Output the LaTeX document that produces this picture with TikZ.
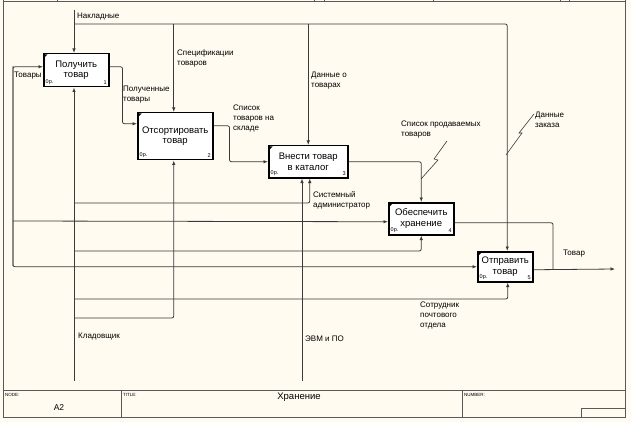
\documentclass[tikz,border=0pt]{standalone}
\usepackage{fontspec}
\setmainfont{Liberation Sans}
\usetikzlibrary{positioning}
\usetikzlibrary{arrows.meta}
\definecolor{paper}{HTML}{FFFBF0}
\definecolor{linegray}{HTML}{3A3A3A}
\tikzstyle{func} = [rectangle, anchor=north west, draw=black, line width=1.5pt, fill=white, align=center, inner sep=0pt, font=\fontsize{9.5}{10.5}\selectfont]
\tikzstyle{cost} = [inner sep=2.5pt, font=\fontsize{5.5}{5.5}\selectfont]
\tikzstyle{arrow} = [draw=linegray, line width=0.8pt, rounded corners=2pt, -{Latex[length=4.5pt,width=3.5pt]}]
\tikzstyle{wire} = [draw=linegray, line width=0.8pt, rounded corners=2pt]
\tikzstyle{squig} = [draw=linegray, line width=0.6pt]
\tikzstyle{lbl} = [anchor=west, align=left, inner sep=0pt, font=\fontsize{8}{10}\selectfont]
\tikzstyle{frame} = [draw=black!65, line width=1pt]
\tikzstyle{tiny} = [anchor=north west, inner sep=0pt, font=\fontsize{4.5}{5}\selectfont]

\begin{document}
\begin{tikzpicture}[x=1pt, y=-1pt]
    \useasboundingbox[fill=paper] (0,0) rectangle (631,422);
    % frame and title block
    \draw[frame] (3,-3) rectangle (625,417);
    \draw[frame] (3,2) -- (625,2);
    \foreach \x in {57,314,324,433,560,569} \draw[frame] (\x,-3) -- (\x,2);
    \draw[frame] (3,390) -- (625,390);
    \draw[frame] (121,390) -- (121,417);
    \draw[frame] (462,390) -- (462,417);
    \draw[frame] (581,417) |- (625,408);
    \node (nodelbl) [tiny] at (5,393) {NODE:};
    \node (nodeno) at (59,408) [font=\fontsize{8.5}{9}\selectfont] {A2};
    \node (titlelbl) [tiny] at (123,393) {TITLE:};
    \node (title) at (299,397) [font=\fontsize{9.5}{10}\selectfont] {Хранение};
    \node (numberlbl) [tiny] at (464,393) {NUMBER:};

    % activities
    \node (box1) [func, minimum width=65pt, minimum height=33pt] at (43,53) {Получить\\товар};
    \node (box2) [func, minimum width=75pt, minimum height=47pt] at (137,112) {Отсортировать\\товар};
    \node (box3) [func, minimum width=79pt, minimum height=32pt] at (268,145) {Внести товар\\в каталог};
    \node (box4) [func, minimum width=65pt, minimum height=32pt] at (388,202) {Обеспечить\\хранение};
    \node (box5) [func, minimum width=55pt, minimum height=30pt] at (477,251) {Отправить\\товар};
    \foreach \b/\n in {box1/1,box2/2,box3/3,box4/4,box5/5} {
        \fill ([shift={(1.5pt,-1.5pt)}]\b.north west) -- ++(3,0) -- ++(-3,3) -- cycle;
        \node (\b c) [cost, anchor=south west] at (\b.south west) {0р.};
        \node (\b n) [cost, anchor=south east] at (\b.south east) {\n};
    }

    % controls
    \coordinate (nakl) at (74,10);
    \coordinate (naklsplit) at (74,24);
    \draw [arrow] (nakl) -- (nakl |- box1.north);
    \draw [arrow] (naklsplit) -| ([xshift=2pt]box5.north);
    \draw [arrow] ([xshift=-1.5pt]naklsplit -| box2.north) -- ([xshift=-1.5pt]box2.north);
    \draw [arrow] (naklsplit -| box3.north) -- (box3.north);

    % inputs and outputs
    \coordinate (tovtop) at (13,66);
    \coordinate (tovmid) at (13,221);
    \coordinate (tovbot) at (13,266);
    \draw [arrow] (tovbot) |- ([yshift=3.5pt]box1.west);
    \draw [arrow] (tovtop) |- (box5.west);
    \draw [arrow] (tovmid) -- ([yshift=-3pt]box4.west);
    \draw [arrow] ([yshift=3.5pt]box1.east) -- ++(13,0) |- ([yshift=12.5pt]box2.west);
    \draw [arrow] ([yshift=10.5pt]box2.east) -- ++(16,0) |- (box3.west);
    \draw [arrow] (box3.east) -| (box4.north);
    \coordinate (merge) at (553,269);
    \coordinate (out) at (615,269);
    \draw [wire] ([yshift=-4pt]box4.east) -| (merge);
    \draw [arrow] ([yshift=-3pt]box5.east) -- (out);

    % mechanisms
    \coordinate (klad) at (74,381);
    \coordinate (klad3) at (74,203);
    \coordinate (klad4) at (74,251);
    \coordinate (klad5) at (74,299);
    \coordinate (klad2) at (74,318);
    \coordinate (evm) at (302,381);
    \draw [arrow] (klad) -- (klad |- box1.south);
    \draw [arrow] (klad3) -| ([xshift=1.5pt]box3.south);
    \draw [arrow] (klad4) -| (box4.south);
    \draw [arrow] (klad5) -| ([xshift=2.5pt]box5.south);
    \draw [arrow] (klad2) -| ([xshift=-1.5pt]box2.south);
    \draw [arrow] (evm) -- (evm |- box3.south);

    % squiggles
    \draw [squig] (447,141) -- (434,159) -- (438,160) -- (421,179);
    \draw [squig] (534,114) -- (519,133) -- (522,133) -- (506,155);

    % labels
    \node (lnakl) [lbl] at (77,17) {Накладные};
    \node (ltov) [lbl] at (14,76) {Товары};
    \node (lspec) [lbl] at (177,58) {Спецификации\\товаров};
    \node (lrecv) [lbl] at (123,95) {Полученные\\товары};
    \node (lstock) [lbl] at (233,119) {Список\\товаров на\\складе};
    \node (ldata) [lbl] at (311,81) {Данные о\\товарах};
    \node (lsale) [lbl] at (401,130) {Список продаваемых\\товаров};
    \node (lorder) [lbl] at (535,120) {Данные\\заказа};
    \node (ladmin) [lbl] at (313,200) {Системный\\администратор};
    \node (lgoods) [lbl] at (563,254) {Товар};
    \node (lpost) [lbl] at (420,316) {Сотрудник\\почтового\\отдела};
    \node (lklad) [lbl] at (78,337) {Кладовщик};
    \node (levm) [lbl] at (305,339) {ЭВМ и ПО};
\end{tikzpicture}
\end{document}
